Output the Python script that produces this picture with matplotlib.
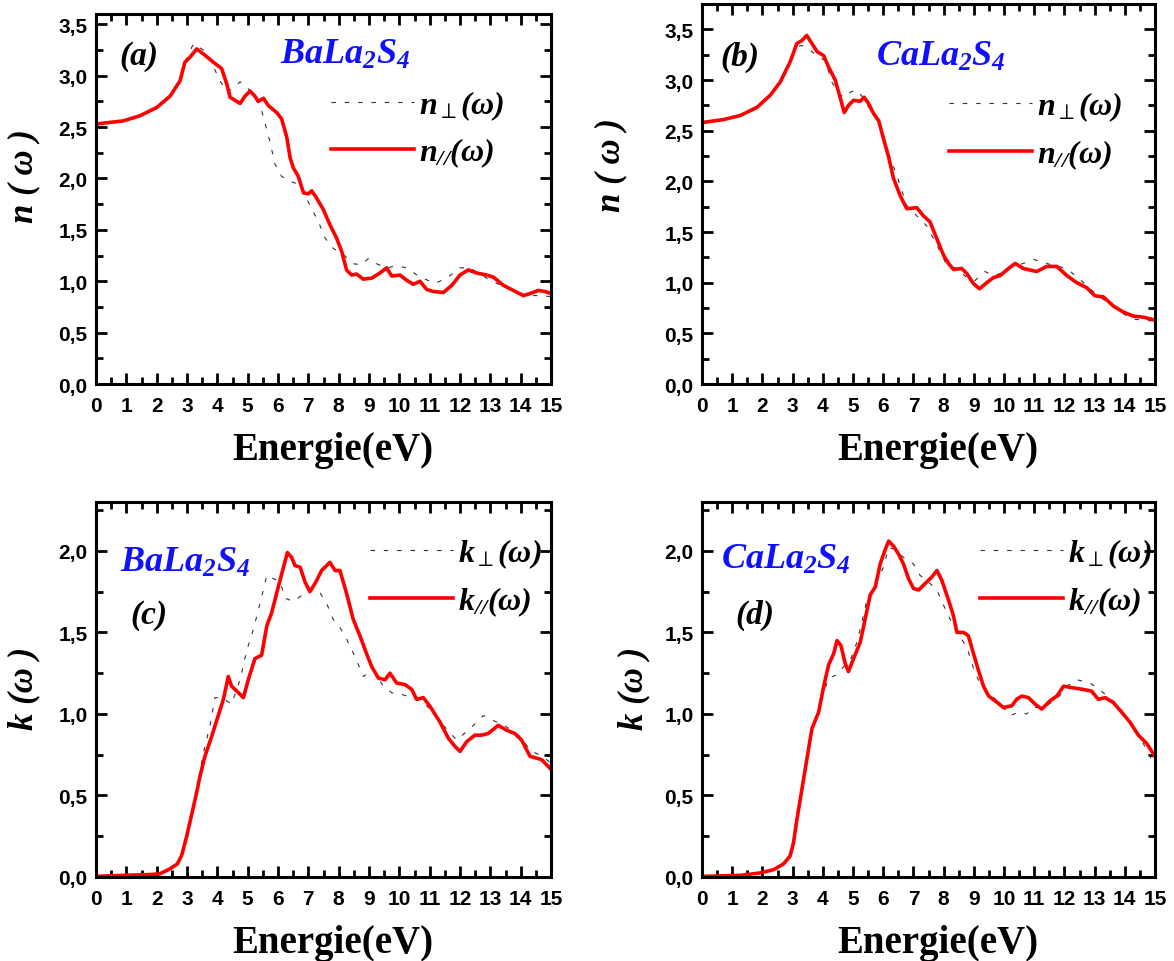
import matplotlib
matplotlib.use('Agg')
import matplotlib.pyplot as plt
from matplotlib.ticker import MultipleLocator, FuncFormatter

# ---- data (energy in eV) ----
# (a) BaLa2S4, refractive index n
e_a_par = [0, 0.9, 1.45, 2.0, 2.44, 2.77, 2.93, 3.1, 3.32, 3.59, 3.87, 4.14, 4.31, 4.42, 4.58, 4.75,
           4.91, 5.08, 5.24, 5.35, 5.52, 5.68, 5.96, 6.12, 6.29, 6.4, 6.51, 6.67, 6.84, 7.0, 7.11,
           7.27, 7.49, 7.71, 7.93, 8.1, 8.26, 8.43, 8.59, 8.81, 9.09, 9.36, 9.58, 9.75, 10.02,
           10.24, 10.46, 10.68, 10.9, 11.12, 11.45, 11.73, 12.0, 12.27, 12.55, 12.88, 13.1, 13.43,
           13.76, 14.09, 14.31, 14.58, 14.8, 15.0]
n_a_par = [2.53, 2.56, 2.61, 2.69, 2.8, 2.95, 3.13, 3.18, 3.26, 3.2, 3.13, 3.07, 2.92, 2.79, 2.76, 2.73,
           2.8, 2.85, 2.8, 2.75, 2.78, 2.71, 2.64, 2.58, 2.4, 2.2, 2.1, 2.02, 1.86, 1.85, 1.88,
           1.81, 1.7, 1.55, 1.42, 1.29, 1.11, 1.06, 1.07, 1.02, 1.03, 1.08, 1.13, 1.05, 1.06,
           1.01, 0.97, 1.0, 0.92, 0.9, 0.89, 0.96, 1.06, 1.11, 1.08, 1.06, 1.04, 0.96,
           0.91, 0.86, 0.88, 0.91, 0.9, 0.88]
e_a_perp = [0, 0.9, 1.45, 2.0, 2.44, 2.77, 2.93, 3.21, 3.65, 3.93, 4.09, 4.31, 4.47, 4.75, 4.97, 5.24,
            5.46, 5.57, 5.74, 5.9, 6.12, 6.4, 6.73, 7.05, 7.33, 7.55, 7.82, 8.15, 8.48, 8.76, 8.98,
            9.25, 9.58, 9.91, 10.24, 10.68, 11.18, 11.56, 12.0, 12.33, 12.66, 12.99, 13.43, 13.87,
            14.2, 14.64, 15.0]
n_a_perp = [2.53, 2.56, 2.61, 2.69, 2.8, 2.95, 3.13, 3.31, 3.23, 3.05, 2.95, 2.84, 2.87, 2.94, 2.89, 2.79,
            2.66, 2.54, 2.35, 2.14, 2.02, 1.97, 1.94, 1.74, 1.58, 1.42, 1.32, 1.26, 1.17, 1.16, 1.22,
            1.17, 1.13, 1.15, 1.13, 1.04, 0.98, 1.03, 1.13, 1.13, 1.07, 1.01, 0.95, 0.9,
            0.86, 0.86, 0.85]

# (b) CaLa2S4, refractive index n
e_b_par = [0, 0.72, 1.27, 1.82, 2.26, 2.59, 2.92, 3.14, 3.31, 3.47, 3.64, 3.81, 4.03, 4.19, 4.41, 4.58,
           4.71, 4.85, 5.02, 5.24, 5.37, 5.51, 5.68, 5.85, 6.01, 6.18, 6.34, 6.56, 6.78, 7.11, 7.33,
           7.55, 7.78, 8.0, 8.16, 8.33, 8.6, 8.77, 8.99, 9.19, 9.43, 9.65, 9.87, 10.15, 10.37,
           10.64, 11.08, 11.41, 11.75, 12.08, 12.41, 12.74, 13.01, 13.29, 13.62, 13.95, 14.28,
           14.61, 15.0]
n_b_par = [2.58, 2.61, 2.65, 2.73, 2.85, 2.98, 3.18, 3.36, 3.39, 3.44, 3.36, 3.28, 3.24, 3.13, 3.0, 2.82,
           2.68, 2.75, 2.8, 2.79, 2.83, 2.77, 2.67, 2.6, 2.42, 2.24, 2.03, 1.86, 1.73, 1.74, 1.66,
           1.6, 1.43, 1.27, 1.19, 1.13, 1.14, 1.09, 0.99, 0.94, 1.0, 1.05, 1.07, 1.14, 1.19,
           1.14, 1.11, 1.16, 1.16, 1.07, 1.0, 0.95, 0.87, 0.86, 0.77, 0.71, 0.67,
           0.66, 0.63]
e_b_perp = [0, 0.72, 1.27, 1.82, 2.26, 2.59, 2.92, 3.14, 3.31, 3.47, 3.81, 4.08, 4.3, 4.52, 4.69, 4.91,
            5.13, 5.35, 5.62, 5.9, 6.12, 6.45, 6.78, 7.11, 7.44, 7.78, 8.11, 8.44, 8.77, 9.04, 9.37,
            9.65, 9.98, 10.31, 10.64, 10.97, 11.3, 11.64, 12.08, 12.52, 12.96, 13.4, 13.84, 14.28, 15.0]
n_b_perp = [2.58, 2.61, 2.65, 2.73, 2.85, 2.98, 3.18, 3.33, 3.34, 3.32, 3.24, 3.19, 2.98, 2.87, 2.83, 2.88,
            2.9, 2.82, 2.68, 2.55, 2.32, 2.06, 1.76, 1.66, 1.56, 1.37, 1.17, 1.14, 1.05, 1.02, 1.11,
            1.07, 1.1, 1.16, 1.19, 1.23, 1.2, 1.17, 1.14, 1.03, 0.91, 0.81, 0.71, 0.64, 0.62]

# (c) BaLa2S4, extinction coefficient k
e_c_par = [0, 0.9, 1.78, 2.11, 2.44, 2.68, 2.82, 2.99, 3.15, 3.32, 3.43, 3.59, 3.81, 4.03, 4.2, 4.36,
           4.47, 4.64, 4.86, 5.02, 5.24, 5.46, 5.63, 5.79, 6.01, 6.18, 6.31, 6.45, 6.56, 6.73, 6.89,
           7.05, 7.22, 7.44, 7.6, 7.71, 7.88, 8.04, 8.26, 8.48, 8.7, 8.92, 9.09, 9.31, 9.53, 9.69,
           9.91, 10.19, 10.41, 10.57, 10.79, 11.0, 11.34, 11.62, 11.84, 12.0, 12.22, 12.49, 12.71,
           12.93, 13.26, 13.54, 13.81, 14.03, 14.31, 14.69, 15.0]
k_c_par = [0.004, 0.01, 0.015, 0.02, 0.05, 0.08, 0.13, 0.25, 0.38, 0.52, 0.62, 0.74, 0.86, 0.99, 1.09, 1.23,
           1.17, 1.14, 1.1, 1.21, 1.34, 1.36, 1.54, 1.62, 1.78, 1.9, 1.99, 1.96, 1.91, 1.9, 1.81,
           1.75, 1.8, 1.88, 1.91, 1.93, 1.88, 1.88, 1.74, 1.58, 1.48, 1.37, 1.29, 1.22, 1.21, 1.25,
           1.19, 1.18, 1.15, 1.09, 1.1, 1.05, 0.95, 0.85, 0.8, 0.77, 0.83, 0.87, 0.87,
           0.88, 0.93, 0.9, 0.88, 0.84, 0.74, 0.72, 0.66]
e_c_perp = [0, 0.9, 1.78, 2.11, 2.44, 2.68, 2.82, 2.99, 3.15, 3.32, 3.54, 3.76, 3.92, 4.14, 4.47, 4.75,
            4.97, 5.19, 5.41, 5.63, 5.85, 6.07, 6.23, 6.51, 6.73, 7.05, 7.33, 7.6, 7.82, 8.04, 8.26,
            8.59, 8.81, 9.14, 9.47, 9.75, 10.08, 10.41, 10.79, 11.12, 11.45, 11.89, 12.33, 12.77,
            13.1, 13.54, 13.98, 14.31, 14.69, 15.0]
k_c_perp = [0.004, 0.01, 0.015, 0.02, 0.05, 0.08, 0.13, 0.25, 0.38, 0.54, 0.76, 0.93, 1.1, 1.1, 1.06, 1.21,
            1.39, 1.52, 1.68, 1.85, 1.83, 1.81, 1.71, 1.69, 1.72, 1.76, 1.76, 1.68, 1.58, 1.53, 1.46,
            1.33, 1.23, 1.27, 1.17, 1.13, 1.12, 1.1, 1.07, 1.01, 0.93, 0.84, 0.91, 0.99,
            0.96, 0.92, 0.86, 0.78, 0.74, 0.7]

# (d) CaLa2S4, extinction coefficient k
e_d_par = [0, 1.27, 1.93, 2.37, 2.7, 2.92, 3.03, 3.14, 3.31, 3.47, 3.64, 3.86, 4.03, 4.19, 4.36, 4.47,
           4.6, 4.74, 4.85, 5.02, 5.24, 5.4, 5.57, 5.74, 5.9, 6.07, 6.18, 6.34, 6.51, 6.67, 6.84,
           7.0, 7.17, 7.39, 7.61, 7.78, 7.94, 8.16, 8.33, 8.44, 8.66, 8.82, 8.99, 9.15, 9.32, 9.49,
           9.71, 9.98, 10.26, 10.42, 10.59, 10.81, 11.03, 11.25, 11.52, 11.75, 11.97, 12.3, 12.63,
           12.9, 13.12, 13.35, 13.62, 13.9, 14.17, 14.45, 14.72, 15.0]
k_d_par = [0.004, 0.01, 0.025, 0.045, 0.08, 0.13, 0.21, 0.35, 0.54, 0.72, 0.91, 1.01, 1.17, 1.3, 1.37, 1.45,
           1.42, 1.31, 1.26, 1.34, 1.44, 1.58, 1.73, 1.78, 1.92, 2.01, 2.06, 2.03, 1.98, 1.92, 1.83,
           1.77, 1.76, 1.8, 1.84, 1.88, 1.82, 1.7, 1.6, 1.5, 1.5, 1.48, 1.37, 1.27, 1.17, 1.11,
           1.08, 1.04, 1.05, 1.09, 1.11, 1.1, 1.06, 1.03, 1.08, 1.11, 1.17, 1.16, 1.15,
           1.14, 1.09, 1.1, 1.07, 1.01, 0.95, 0.87, 0.82, 0.74]
e_d_perp = [0, 1.27, 1.93, 2.37, 2.7, 2.92, 3.03, 3.14, 3.31, 3.47, 3.64, 3.86, 4.03, 4.19, 4.47, 4.69,
            4.91, 5.13, 5.29, 5.46, 5.79, 6.01, 6.18, 6.4, 6.67, 7.0, 7.22, 7.44, 7.78, 8.11, 8.44,
            8.77, 9.04, 9.26, 9.6, 9.93, 10.2, 10.48, 10.75, 10.97, 11.3, 11.75, 12.08, 12.41, 12.85,
            13.29, 13.73, 14.17, 14.5, 14.94]
k_d_perp = [0.004, 0.01, 0.025, 0.045, 0.08, 0.13, 0.21, 0.35, 0.54, 0.72, 0.91, 1.01, 1.13, 1.22, 1.24, 1.29,
            1.33, 1.44, 1.56, 1.7, 1.82, 1.9, 2.02, 2.01, 1.96, 1.92, 1.85, 1.82, 1.76, 1.62, 1.5,
            1.41, 1.25, 1.17, 1.11, 1.05, 0.99, 1.01, 1.0, 1.04, 1.04, 1.09, 1.17, 1.21, 1.19,
            1.13, 1.06, 0.95, 0.86, 0.7]

compounds = ['BaLa_2S_4', 'CaLa_2S_4', 'BaLa_2S_4', 'CaLa_2S_4']
panel_tags = ['(a)', '(b)', '(c)', '(d)']
ylabels = ['n ( ω )', 'n ( ω )', 'k (ω )', 'k (ω )']

# ---- fonts ----
plt.rcParams['mathtext.fontset'] = 'custom'
plt.rcParams['mathtext.rm'] = 'Liberation Serif:italic:bold'
plt.rcParams['mathtext.it'] = 'Liberation Serif:italic:bold'
plt.rcParams['mathtext.bf'] = 'Liberation Serif:italic:bold'

SERIF = 'Liberation Serif'
RED = '#ff0000'
BLUE = '#1010ff'
comma_fmt = FuncFormatter(lambda v, p: f'{v:.1f}'.replace('.', ','))


def style_axes(ax, ymax, ylabel, ylab_x):
    ax.set_xlim(0, 15)
    ax.set_ylim(0, ymax)
    ax.xaxis.set_major_locator(MultipleLocator(1))
    ax.xaxis.set_minor_locator(MultipleLocator(0.5))
    ax.yaxis.set_major_locator(MultipleLocator(0.5))
    ax.yaxis.set_minor_locator(MultipleLocator(0.25))
    ax.yaxis.set_major_formatter(comma_fmt)
    ax.tick_params(which='both', direction='in', top=True, right=True, width=2)
    ax.tick_params(which='major', length=8)
    ax.tick_params(which='minor', length=5)
    ax.tick_params(axis='x', which='major', pad=9)
    ax.tick_params(axis='y', which='major', pad=6)
    for lab in ax.get_xticklabels() + ax.get_yticklabels():
        lab.set_fontfamily('Liberation Sans')
        lab.set_fontweight('bold')
        lab.set_fontsize(15)
    for sp in ax.spines.values():
        sp.set_linewidth(2.2)
    ax.set_xlabel('Energie(eV)', fontfamily=SERIF, fontweight='bold', fontsize=28, labelpad=11)
    ax.xaxis.label.set_x(0.52)
    ax.set_ylabel(ylabel, fontfamily=SERIF, fontweight='bold', fontstyle='italic', fontsize=25)
    ax.yaxis.set_label_coords(ylab_x[0], ylab_x[1])


fig = plt.figure(figsize=(11.74, 9.62), dpi=100)
W, H = 1174, 962


def px_axes(x0, y0, x1, y1):
    return fig.add_axes([x0 / W, 1 - y1 / H, (x1 - x0) / W, (y1 - y0) / H])


ax_a = px_axes(96, 15, 551, 385)
ax_b = px_axes(702, 5, 1155, 385)
ax_c = px_axes(96, 503, 551, 878)
ax_d = px_axes(702, 503, 1155, 878)

panels = [
    (ax_a, e_a_perp, n_a_perp, e_a_par, n_a_par, 'n', 3.6),
    (ax_b, e_b_perp, n_b_perp, e_b_par, n_b_par, 'n', 3.75),
    (ax_c, e_c_perp, k_c_perp, e_c_par, k_c_par, 'k', 2.3),
    (ax_d, e_d_perp, k_d_perp, e_d_par, k_d_par, 'k', 2.3),
]
# legend anchor (axes fraction), tag, compound text and y-label positions
legend_pos = [(0.516, 0.69), (0.545, 0.668), (0.602, 0.80), (0.614, 0.80)]
tag_pos = [(0.095, 0.889), (0.084, 0.863), (0.116, 0.701), (0.117, 0.701)]
name_pos = [(0.547, 0.895), (0.528, 0.866), (0.196, 0.843), (0.186, 0.851)]
ylab_pos = [(-0.122, 0.565), (-0.165, 0.58), (-0.122, 0.505), (-0.115, 0.505)]

for i, (ax, ep, vp, ea, va, q, ymax) in enumerate(panels):
    ax.plot(ep, vp, color='#333333', lw=0.8, ls=(0, (4, 8)),
            label=r'$%s_{\perp}(\omega)$' % q)
    ax.plot(ea, va, color=RED, lw=2.6, label=r'$%s_{//}(\omega)$' % q)
    style_axes(ax, ymax, ylabels[i], ylab_pos[i])
    ax.legend(loc='center left', bbox_to_anchor=legend_pos[i], frameon=False,
              fontsize=23, handlelength=2.6, handletextpad=0.15, labelspacing=0.45,
              borderpad=0, borderaxespad=0)
    ax.text(*tag_pos[i], panel_tags[i], transform=ax.transAxes, ha='center', va='center',
            fontfamily=SERIF, fontweight='bold', fontstyle='italic', fontsize=24)
    ax.text(*name_pos[i], '$%s$' % compounds[i], transform=ax.transAxes, ha='center',
            va='center', color=BLUE, fontsize=26)

fig.savefig('out.png', dpi=100)
